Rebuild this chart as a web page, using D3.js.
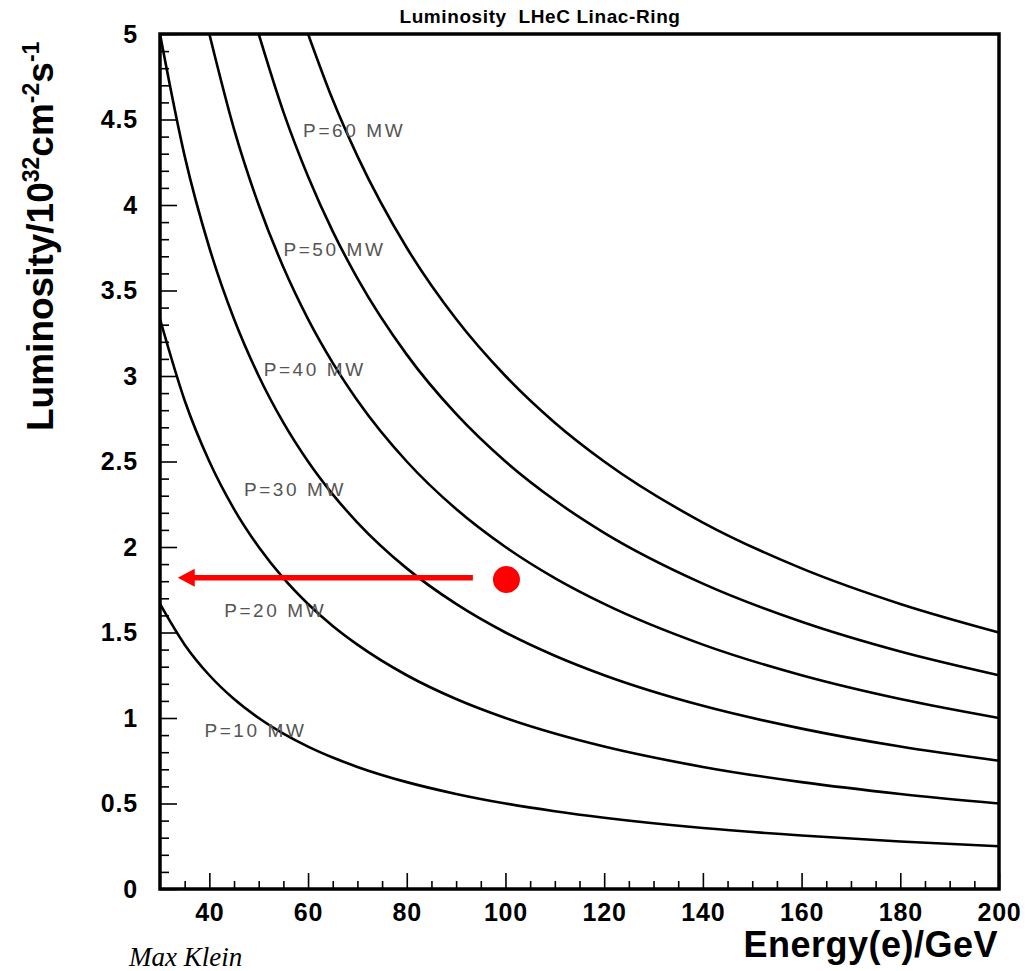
<!DOCTYPE html>
<html>
<head>
<meta charset="utf-8">
<script src="https://cdn.jsdelivr.net/npm/d3@7"></script>
<style>
  html, body { margin: 0; padding: 0; background: #fff; }
  svg { display: block; }
</style>
</head>
<body>
<svg id="chart" width="1025" height="971"></svg>
<script>
// Beam energy (GeV) at which each luminosity curve is sampled
const energies = [30, 35, 40, 45, 50, 55, 60, 65, 70, 80, 90, 100, 110, 120, 140, 160, 180, 200];

// Luminosity in 1e32 cm^-2 s^-1 for each wall-plug power; null = above the plotted range
const lumiP10 = [1.667, 1.429, 1.250, 1.111, 1.000, 0.909, 0.833, 0.769, 0.714, 0.625, 0.556, 0.500, 0.455, 0.417, 0.357, 0.313, 0.278, 0.250];
const lumiP20 = [3.333, 2.857, 2.500, 2.222, 2.000, 1.818, 1.667, 1.538, 1.429, 1.250, 1.111, 1.000, 0.909, 0.833, 0.714, 0.625, 0.556, 0.500];
const lumiP30 = [5.000, 4.286, 3.750, 3.333, 3.000, 2.727, 2.500, 2.308, 2.143, 1.875, 1.667, 1.500, 1.364, 1.250, 1.071, 0.938, 0.833, 0.750];
const lumiP40 = [null, null, 5.000, 4.444, 4.000, 3.636, 3.333, 3.077, 2.857, 2.500, 2.222, 2.000, 1.818, 1.667, 1.429, 1.250, 1.111, 1.000];
const lumiP50 = [null, null, null, null, 5.000, 4.545, 4.167, 3.846, 3.571, 3.125, 2.778, 2.500, 2.273, 2.083, 1.786, 1.563, 1.389, 1.250];
const lumiP60 = [null, null, null, null, null, null, 5.000, 4.615, 4.286, 3.750, 3.333, 3.000, 2.727, 2.500, 2.143, 1.875, 1.667, 1.500];

const powerLabels = ["P=10 MW", "P=20 MW", "P=30 MW", "P=40 MW", "P=50 MW", "P=60 MW"];
// Anchor of each curve label in data coordinates (energy, luminosity)
const labelEnergy = [39, 43, 47, 51, 55, 59];
const labelLumi = [0.89, 1.59, 2.30, 3.00, 3.70, 4.40];

// Design point and the arrow pointing to the luminosity axis
const designPoint = { energy: 100.2, lumi: 1.81 };
const arrowFrom = { energy: 93.4, lumi: 1.82 };
const arrowTo = { energy: 33.6, lumi: 1.82 };

const xTickValues = [40, 60, 80, 100, 120, 140, 160, 180, 200];
const yTickValues = [0, 0.5, 1, 1.5, 2, 2.5, 3, 3.5, 4, 4.5, 5];

const series = [lumiP10, lumiP20, lumiP30, lumiP40, lumiP50, lumiP60];

const svg = d3.select("#chart");
const plotLeft = 160, plotRight = 999, plotTop = 34, plotBottom = 889;

const x = d3.scaleLinear().domain([30, 200]).range([plotLeft, plotRight]);
const y = d3.scaleLinear().domain([0, 5]).range([plotBottom, plotTop]);

const sans = "'Liberation Sans', Arial, Helvetica, sans-serif";

// Clip region for the curves
svg.append("defs").append("clipPath").attr("id", "plotClip")
  .append("rect").attr("x", plotLeft).attr("y", plotTop)
  .attr("width", plotRight - plotLeft).attr("height", plotBottom - plotTop);

// Minor and major ticks, drawn inward
const xMinor = d3.range(35, 200, 5).filter(v => !xTickValues.includes(v));
const yMinor = d3.range(1, 50).map(v => v / 10).filter(v => !yTickValues.some(t => Math.abs(t - v) < 1e-6));

const xAxisMajor = d3.axisBottom(x).tickValues(xTickValues).tickSizeInner(-16).tickSizeOuter(0).tickPadding(14).tickFormat(d3.format("d"));
const xAxisMinor = d3.axisBottom(x).tickValues(xMinor).tickSizeInner(-8).tickSizeOuter(0).tickFormat("");
const yAxisMajor = d3.axisLeft(y).tickValues(yTickValues).tickSizeInner(-17).tickSizeOuter(0).tickPadding(22).tickFormat(d => d3.format("~g")(d));
const yAxisMinor = d3.axisLeft(y).tickValues(yMinor).tickSizeInner(-9).tickSizeOuter(0).tickFormat("");

function styleAxis(g) {
  g.select(".domain").remove();
  g.selectAll(".tick line").attr("stroke", "#000").attr("stroke-width", 1.6);
  g.selectAll(".tick text")
    .attr("fill", "#000")
    .style("font-family", sans)
    .style("font-weight", "bold")
    .style("font-size", "25px")
    .style("letter-spacing", "0.8px");
}

svg.append("g").attr("transform", `translate(0,${plotBottom})`).call(xAxisMinor).call(styleAxis);
svg.append("g").attr("transform", `translate(0,${plotBottom})`).call(xAxisMajor).call(styleAxis);
svg.append("g").attr("transform", `translate(${plotLeft},0)`).call(yAxisMinor).call(styleAxis);
svg.append("g").attr("transform", `translate(${plotLeft},0)`).call(yAxisMajor).call(styleAxis);

// Luminosity curves
const line = d3.line()
  .defined(d => d.l !== null)
  .x(d => x(d.e))
  .y(d => y(d.l))
  .curve(d3.curveMonotoneX);

const curves = svg.append("g").attr("clip-path", "url(#plotClip)");
series.forEach(vals => {
  const pts = energies.map((e, i) => ({ e, l: vals[i] }));
  curves.append("path")
    .attr("d", line(pts))
    .attr("fill", "none")
    .attr("stroke", "#000")
    .attr("stroke-width", 2.6);
});

// Curve labels
svg.append("g").selectAll("text")
  .data(powerLabels)
  .join("text")
  .attr("x", (d, i) => x(labelEnergy[i]))
  .attr("y", (d, i) => y(labelLumi[i]))
  .attr("fill", "#555")
  .style("font-family", sans)
  .style("font-size", "19px")
  .style("letter-spacing", "2.6px")
  .text(d => d);

// Arrow towards the luminosity axis
const ax1 = x(arrowFrom.energy), ay = y(arrowFrom.lumi), ax2 = x(arrowTo.energy);
const headLen = 17, headHalf = 9;
svg.append("line")
  .attr("x1", ax1).attr("y1", ay)
  .attr("x2", ax2 + headLen - 1).attr("y2", ay)
  .attr("stroke", "#ff0000").attr("stroke-width", 5.5);
svg.append("path")
  .attr("d", `M${ax2},${ay} L${ax2 + headLen},${ay - headHalf} L${ax2 + headLen},${ay + headHalf} Z`)
  .attr("fill", "#ff0000");

// Design point
svg.append("circle")
  .attr("cx", x(designPoint.energy))
  .attr("cy", y(designPoint.lumi))
  .attr("r", 13.5)
  .attr("fill", "#ff0000");

// Plot frame
svg.append("rect")
  .attr("x", plotLeft).attr("y", plotTop)
  .attr("width", plotRight - plotLeft).attr("height", plotBottom - plotTop)
  .attr("fill", "none").attr("stroke", "#000").attr("stroke-width", 3.5);

// Title
svg.append("text")
  .attr("x", 540).attr("y", 23)
  .attr("text-anchor", "middle")
  .style("font-family", sans).style("font-weight", "bold").style("font-size", "19px")
  .style("letter-spacing", "0.6px")
  .attr("xml:space", "preserve")
  .text("Luminosity  LHeC Linac-Ring");

// Axis titles
svg.append("text")
  .attr("x", 998).attr("y", 957)
  .attr("text-anchor", "end")
  .style("font-family", sans).style("font-weight", "bold").style("font-size", "36px")
  .style("letter-spacing", "0.5px")
  .text("Energy(e)/GeV");

const yTitle = svg.append("text")
  .attr("transform", "translate(53,431) rotate(-90)")
  .style("font-family", sans).style("font-weight", "bold").style("font-size", "37px");
yTitle.append("tspan").text("Luminosity/10");
yTitle.append("tspan").attr("dy", -14).style("font-size", "23px").text("32");
yTitle.append("tspan").attr("dy", 14).text("cm");
yTitle.append("tspan").attr("dy", -14).style("font-size", "23px").text("-2");
yTitle.append("tspan").attr("dy", 14).text("s");
yTitle.append("tspan").attr("dy", -14).style("font-size", "23px").text("-1");

// Author credit
svg.append("text")
  .attr("x", 129).attr("y", 966)
  .style("font-family", "'Liberation Serif', 'Times New Roman', serif")
  .style("font-style", "italic").style("font-size", "27px")
  .text("Max Klein");
</script>
</body>
</html>
